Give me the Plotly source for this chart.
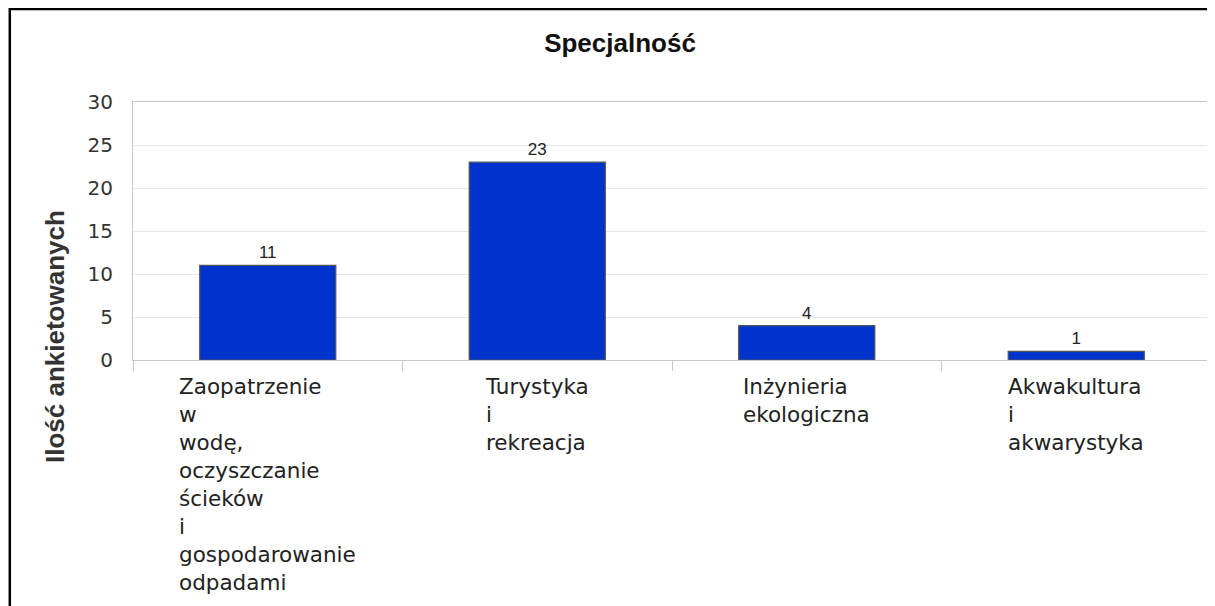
import plotly.graph_objects as go

# data
categories = [
    "Zaopatrzenie w wodę, oczyszczanie ścieków i gospodarowanie odpadami",
    "Turystyka i rekreacja",
    "Inżynieria ekologiczna",
    "Akwakultura i akwarystyka",
]
counts = [11, 23, 4, 1]
y_ticks = [0, 5, 10, 15, 20, 25, 30]

# the page body adds an 8px margin, so figure coords = page coords - 8
W, H = 1215, 606
L, R, T, B = 125, 12, 94, 254
plot_w = W - L - R
plot_h = H - T - B

fig = go.Figure(go.Bar(
    x=categories,
    y=counts,
    text=[str(c) for c in counts],
    textposition="outside",
    textfont=dict(family="Liberation Sans", size=17, color="#222"),
    marker=dict(color="#0033CC", line=dict(color="#555555", width=1.2)),
    cliponaxis=False,
    hoverinfo="skip",
))

# category labels: one word per line, block centred under the bar, left aligned
annotations = []
for cat in categories:
    annotations.append(dict(
        x=cat, xref="x", y=0, yref="paper",
        text="<br>".join(cat.split(" ")), showarrow=False,
        xanchor="center", yanchor="top", align="left",
        yshift=-12,
        font=dict(family="DejaVu Sans", size=21.5, color="#222"),
    ))

# y axis title
annotations.append(dict(
    x=(47 - L) / plot_w, xref="paper", y=(H - B - 329) / plot_h, yref="paper",
    text="<b>Ilość ankietowanych</b>", textangle=-90, showarrow=False,
    xanchor="center", yanchor="middle",
    font=dict(family="Liberation Sans", size=26, color="#333"),
))

fig.update_layout(
    width=W, height=H,
    margin=dict(l=L, r=R, t=T, b=B, autoexpand=False),
    paper_bgcolor="white", plot_bgcolor="white",
    bargap=0.495,
    showlegend=False,
    title=dict(
        text="<b>Specjalność</b>", x=612 / W, xref="container", xanchor="center",
        y=1 - 35 / H, yref="container", yanchor="middle",
        font=dict(family="Liberation Sans", size=26, color="#111"),
    ),
    annotations=annotations,
    shapes=[dict(
        type="rect", xref="paper", yref="paper",
        x0=(1.8 - L) / plot_w, x1=(W + 20 - L) / plot_w,
        y0=-1.2, y1=(H - B - 1) / plot_h,
        line=dict(color="black", width=2.5), layer="above",
    )],
)

fig.update_xaxes(
    type="category", showticklabels=False,
    tickson="boundaries", ticks="outside", ticklen=10, tickcolor="#c8c8c8",
    showline=True, linecolor="#c8c8c8", linewidth=1, mirror=True,
    showgrid=False, zeroline=False,
)
fig.update_yaxes(
    range=[0, 30], tickvals=y_ticks, ticks="",
    tickfont=dict(family="DejaVu Sans", size=20, color="#333"),
    showline=True, linecolor="#c8c8c8", linewidth=1, mirror=True,
    gridcolor="#e8e8e8", zeroline=False, ticklabelstandoff=15,
)

fig.write_html("out.html")
